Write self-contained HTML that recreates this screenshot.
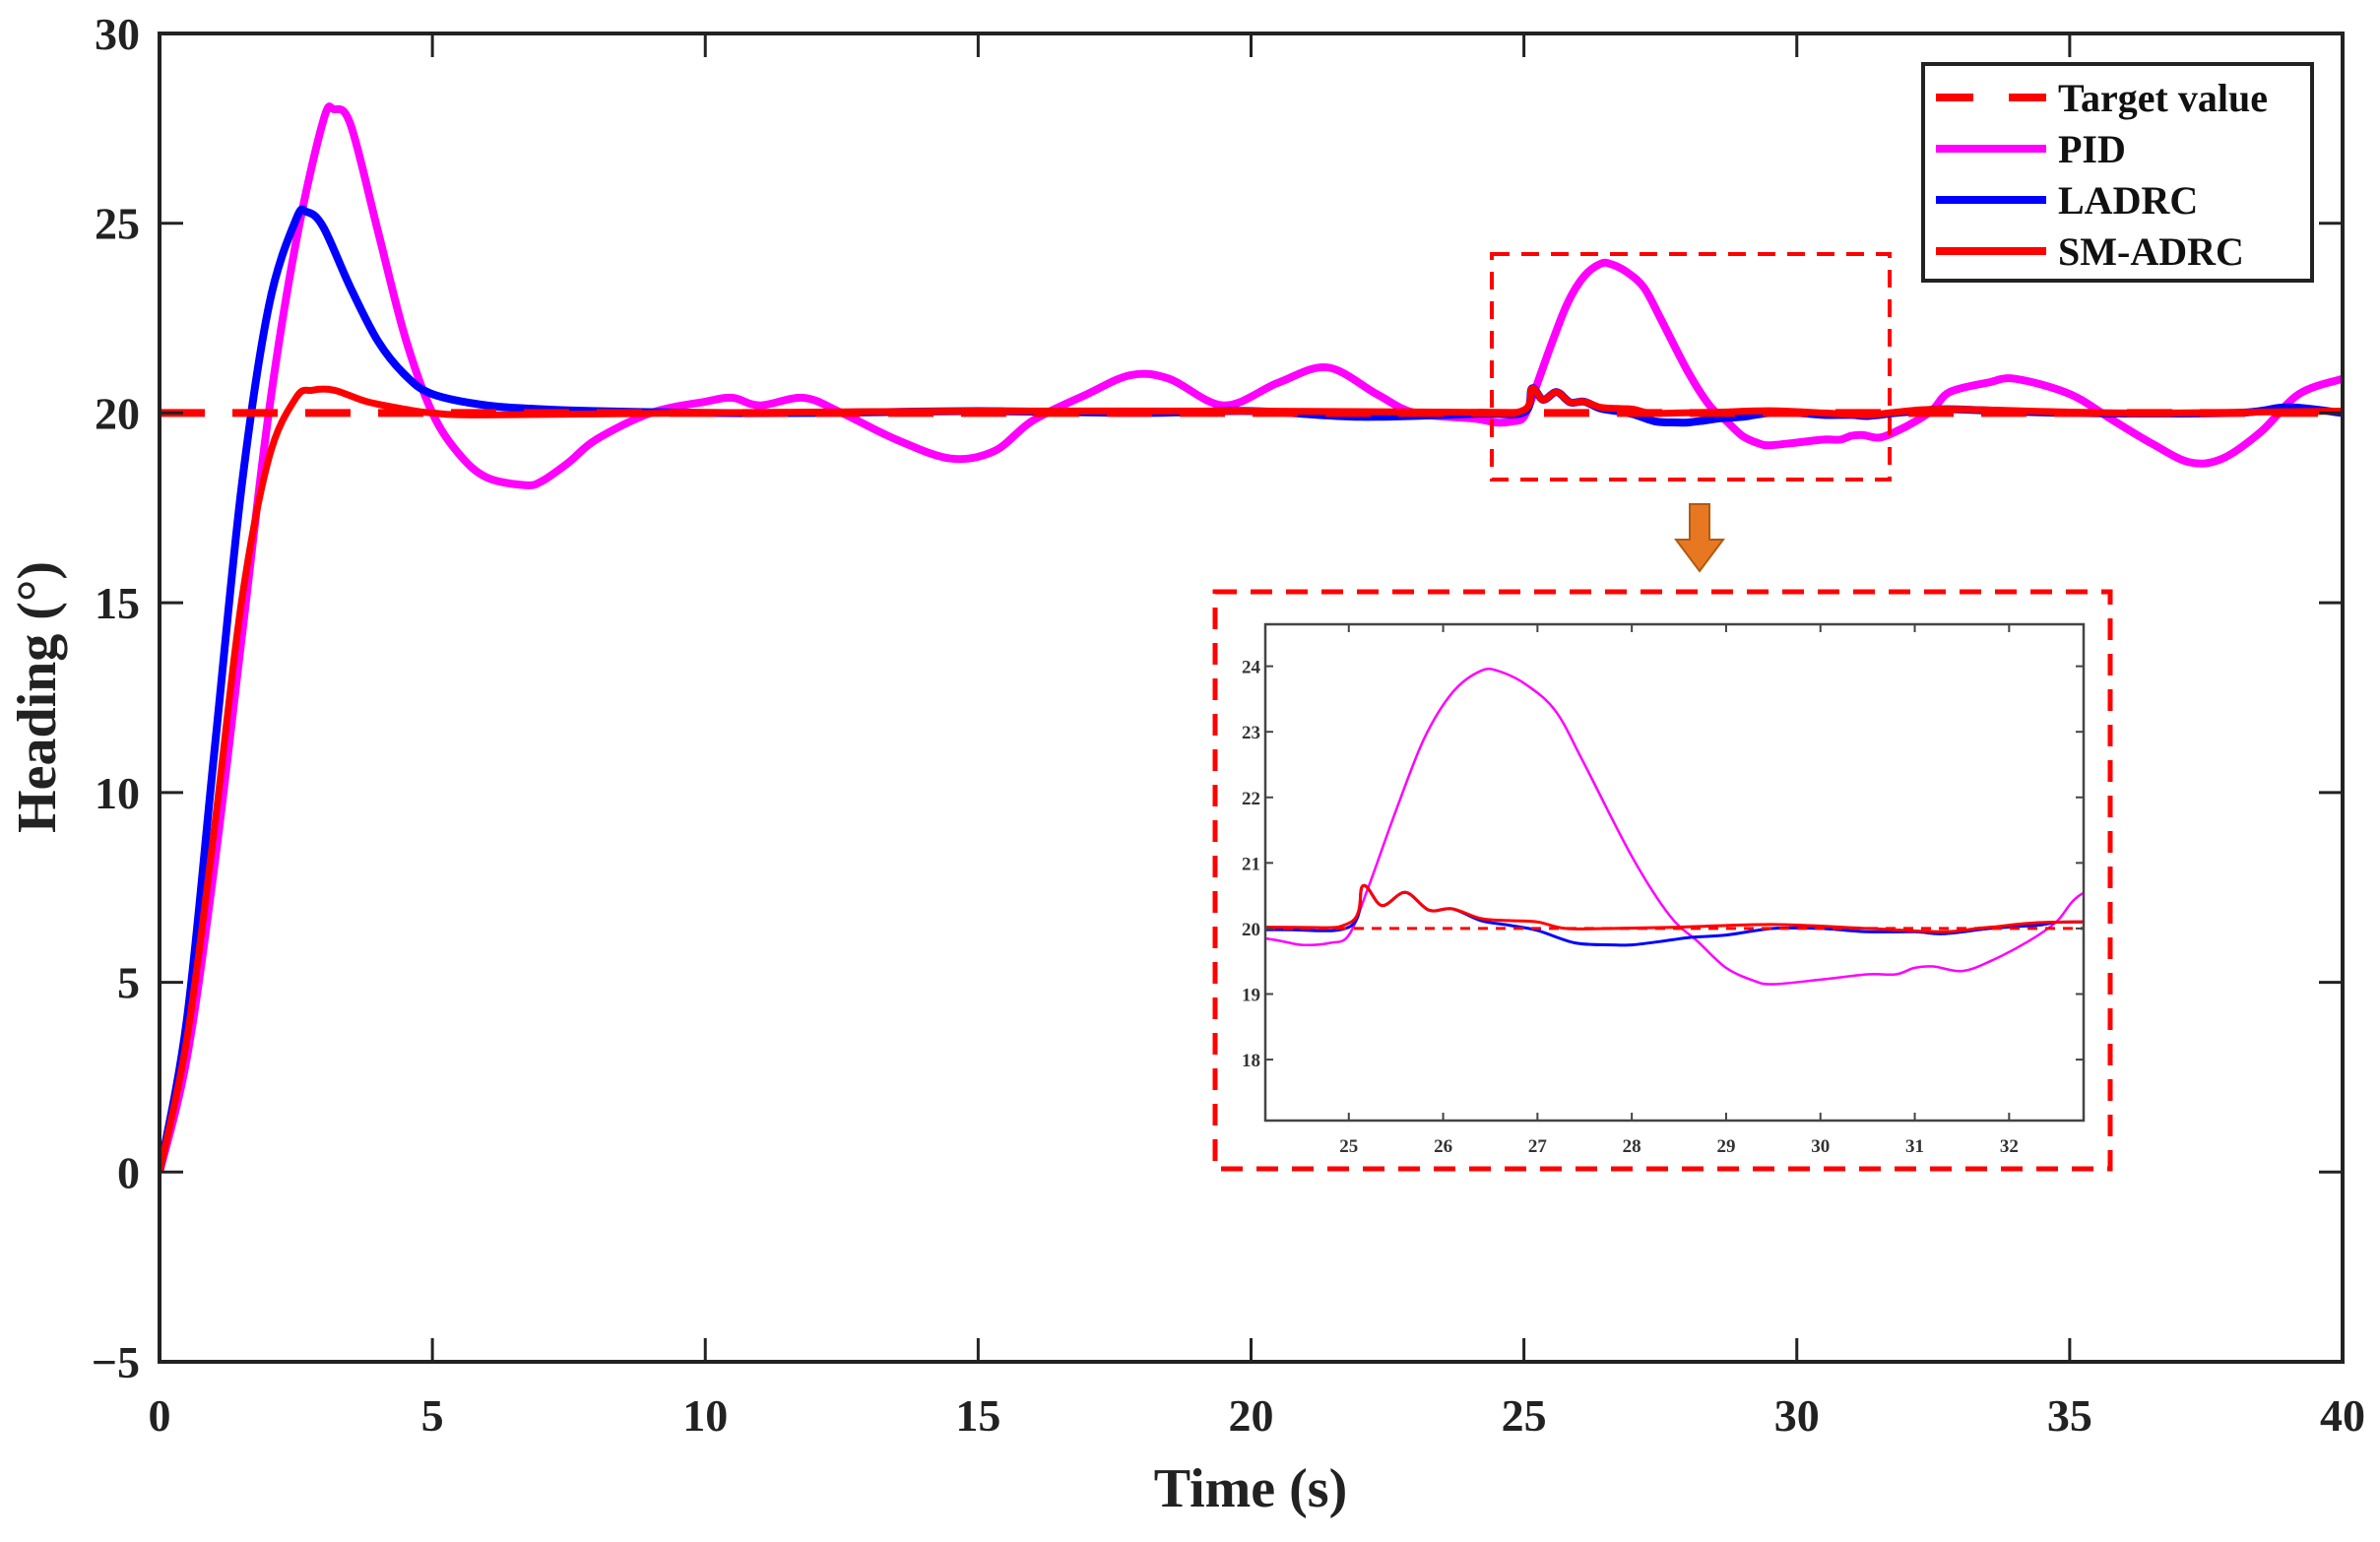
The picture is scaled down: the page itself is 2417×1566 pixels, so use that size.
<!DOCTYPE html>
<html><head><meta charset="utf-8"><style>
html,body{margin:0;padding:0;background:#fff;width:2417px;height:1566px;overflow:hidden}
svg{display:block;font-family:"Liberation Serif",serif}
</style></head><body>
<svg id="chart" width="2417" height="1566" viewBox="0 0 2417 1566" xmlns="http://www.w3.org/2000/svg">
<defs>
<clipPath id="mainClip"><rect x="162" y="34" width="2217" height="1349"/></clipPath>
<clipPath id="insetClip"><rect x="1285" y="634" width="831" height="504"/></clipPath>
</defs>
<g id="main"></g>
<g id="inset"></g>
</svg>
<script>
const target = 20;
const pidT = [0,0.5,1,1.5,2,2.5,3,3.2,3.5,4,4.5,5,5.5,6,6.7,7,7.5,8,9,10,10.5,11,11.8,12.5,13.5,14.5,15.3,16,17,17.8,18.5,19.5,20.5,21.4,22.3,23,24.1,24.5,24.8,25,25.2,25.5,25.8,26.1,26.4,26.6,26.9,27.2,27.5,28,28.4,28.7,29,29.3,29.5,30,30.5,30.8,31,31.2,31.5,31.8,32.2,32.5,32.8,33.5,34,35,35.8,36.5,37.2,37.8,38.5,39.2,40];
const pidV = [0,3,8,14,20,24.5,27.7,28,27.6,24.8,22,20,18.9,18.3,18.1,18.2,18.7,19.3,20,20.3,20.4,20.2,20.4,20,19.3,18.8,19,19.8,20.5,21,20.9,20.2,20.8,21.2,20.5,20,19.85,19.75,19.78,19.9,20.6,21.8,22.9,23.6,23.93,23.92,23.7,23.3,22.5,21.1,20.2,19.8,19.4,19.2,19.15,19.22,19.3,19.3,19.4,19.42,19.35,19.5,19.8,20.1,20.55,20.8,20.9,20.5,19.8,19.2,18.7,18.8,19.5,20.5,20.9];
const ladT = [0,0.5,1,1.5,2,2.5,2.7,3,3.5,4,4.5,5,6,7,8,10,12,15,18,20,22,24.1,25,25.15,25.35,25.6,25.85,26.1,26.4,26.7,27,27.4,27.8,28,28.3,28.6,29,29.5,30,30.5,31,31.3,31.8,32.3,32.8,35,38,39,40];
const ladV = [0,4,11,18,22.8,25.1,25.3,24.9,23.3,21.9,21,20.5,20.2,20.1,20.05,20,20,20.05,20,20.05,19.9,19.98,20.02,20.65,20.35,20.55,20.28,20.3,20.12,20.05,19.97,19.78,19.75,19.75,19.8,19.86,19.9,20,20,19.95,19.95,19.92,20,20.05,20.1,20,20,20.15,20];
const smT = [0,0.5,1,1.5,2,2.5,2.8,3.2,3.8,4.5,5,6,10,15,20,24.1,25,25.15,25.35,25.6,25.85,26.1,26.4,26.7,27,27.3,27.8,28.5,29.5,30.5,31.3,31.8,32.8,36,40];
const smV = [0,3.5,9,15,18.8,20.4,20.6,20.6,20.3,20.1,20,19.95,20,20.05,20.05,20.02,20.08,20.65,20.35,20.55,20.28,20.3,20.15,20.12,20.1,20,20,20.02,20.06,20,19.95,20.02,20.1,20,20.05];
const xTicks = [0,5,10,15,20,25,30,35,40];
const yTicks = [-5,0,5,10,15,20,25,30];
const yTickLabels = ["\u22125","0","5","10","15","20","25","30"];
const insetXTicks = [25,26,27,28,29,30,31,32];
const insetYTicks = [18,19,20,21,22,23,24];

const NS="http://www.w3.org/2000/svg";
function mk(tag, attrs, parent){const e=document.createElementNS(NS,tag);for(const k in attrs)e.setAttribute(k,attrs[k]);parent.appendChild(e);return e;}
const M={x0:162,x1:2379,y0:34,y1:1383,xmin:0,xmax:40,ymin:-5,ymax:30};
const I={x0:1285,x1:2116,y0:634,y1:1138,xmin:24.115,xmax:32.79,ymin:17.07,ymax:24.64};
function sx(a,v){return a.x0+(v-a.xmin)/(a.xmax-a.xmin)*(a.x1-a.x0);}
function sy(a,v){return a.y1-(v-a.ymin)/(a.ymax-a.ymin)*(a.y1-a.y0);}
function pathOf(a,T,V){
 const P=T.map((t,i)=>[sx(a,t),sy(a,V[i])]);
 let d='M'+P[0][0].toFixed(1)+','+P[0][1].toFixed(1);
 for(let i=0;i<P.length-1;i++){
  const p0=P[i-1]||P[i],p1=P[i],p2=P[i+1],p3=P[i+2]||P[i+1];
  const c1=[p1[0]+(p2[0]-p0[0])/6,p1[1]+(p2[1]-p0[1])/6];
  const c2=[p2[0]-(p3[0]-p1[0])/6,p2[1]-(p3[1]-p1[1])/6];
  d+='C'+c1[0].toFixed(1)+','+c1[1].toFixed(1)+' '+c2[0].toFixed(1)+','+c2[1].toFixed(1)+' '+p2[0].toFixed(1)+','+p2[1].toFixed(1);
 }
 return d;
}

const main=document.getElementById('main');
const gs=mk('g',{'clip-path':'url(#mainClip)'},main);
let p;
p=mk('path',{d:pathOf(M,pidT,pidV),fill:'none',stroke:'#ff00ff','stroke-width':8,'stroke-linejoin':'round'},gs);


p=mk('path',{d:pathOf(M,ladT,ladV),fill:'none',stroke:'#0000ff','stroke-width':8,'stroke-linejoin':'round'},gs);


p=mk('line',{x1:sx(M,0),x2:sx(M,40),y1:sy(M,target),y2:sy(M,target),stroke:'#ff0000','stroke-width':8,'stroke-dasharray':'46 28'},gs);


p=mk('path',{d:pathOf(M,smT,smV),fill:'none',stroke:'#ff0000','stroke-width':7,'stroke-linejoin':'round'},gs);


p=mk('rect',{x:M.x0,y:M.y0,width:M.x1-M.x0,height:M.y1-M.y0,fill:'none',stroke:'#222','stroke-width':4},main);


xTicks.forEach(t=>{const x=sx(M,t);
 mk('line',{x1:x,x2:x,y1:M.y1,y2:M.y1-24,stroke:'#222','stroke-width':3},main);
 mk('line',{x1:x,x2:x,y1:M.y0,y2:M.y0+24,stroke:'#222','stroke-width':3},main);
 const tx=mk('text',{x:x,y:1453,'text-anchor':'middle','font-size':46,'font-weight':'bold',fill:'#222'},main);
 tx.textContent=t;
 
 
});
yTicks.forEach((t,i)=>{const y=sy(M,t);
 mk('line',{x1:M.x0,x2:M.x0+24,y1:y,y2:y,stroke:'#222','stroke-width':3},main);
 mk('line',{x1:M.x1,x2:M.x1-24,y1:y,y2:y,stroke:'#222','stroke-width':3},main);
 const tx=mk('text',{x:142,y:y+16,'text-anchor':'end','font-size':46,'font-weight':'bold',fill:'#222'},main);
 tx.textContent=yTickLabels[i];
 
 
});
let t=mk('text',{x:1270,y:1530,'text-anchor':'middle','font-size':56,'font-weight':'bold',fill:'#222'},main);
t.textContent='Time (s)';


t=mk('text',{x:0,y:0,transform:'translate(56,708) rotate(-90)','text-anchor':'middle','font-size':56,'font-weight':'bold',fill:'#222'},main);
t.textContent='Heading (°)';


p=mk('rect',{x:1515,y:258,width:404,height:229,fill:'none',stroke:'#ff0000','stroke-width':4,'stroke-dasharray':'18 12'},main);


p=mk('path',{d:'M1716,512 L1736,512 L1736,548 L1750,548 L1726,580 L1702,548 L1716,548 Z',fill:'#e87722',stroke:'#b05a10','stroke-width':2},main);


const lg=mk('g',{},main);


mk('rect',{x:1953,y:65,width:395,height:220,fill:'#fff',stroke:'#222','stroke-width':4},lg);
const ents=[['Target value','#ff0000',true],['PID','#ff00ff',false],['LADRC','#0000ff',false],['SM-ADRC','#ff0000',false]];
ents.forEach((e,i)=>{const y=99+i*52;
 const l=mk('line',{x1:1966,x2:2078,y1:y,y2:y,stroke:e[1],'stroke-width':8},lg);
 if(e[2])l.setAttribute('stroke-dasharray','38 36');
 const tx=mk('text',{x:2090,y:y+14,'font-size':40,'font-weight':'bold',fill:'#111'},lg);
 tx.textContent=e[0];
 
 
});

const ins=document.getElementById('inset');
p=mk('rect',{x:1234,y:601,width:909,height:586,fill:'#fff',stroke:'#ff0000','stroke-width':5,'stroke-dasharray':'22 14'},ins);


const gi=mk('g',{'clip-path':'url(#insetClip)'},ins);
p=mk('path',{d:pathOf(I,pidT,pidV),fill:'none',stroke:'#ff00ff','stroke-width':2.5},gi);


p=mk('path',{d:pathOf(I,ladT,ladV),fill:'none',stroke:'#0000ff','stroke-width':3},gi);


p=mk('line',{x1:I.x0,x2:I.x1,y1:sy(I,target),y2:sy(I,target),stroke:'#ff0000','stroke-width':3,'stroke-dasharray':'10 8'},gi);


p=mk('path',{d:pathOf(I,smT,smV),fill:'none',stroke:'#ff0000','stroke-width':3},gi);


p=mk('rect',{x:I.x0,y:I.y0,width:I.x1-I.x0,height:I.y1-I.y0,fill:'none',stroke:'#444','stroke-width':2.5},ins);


insetXTicks.forEach(v=>{const x=sx(I,v);
 mk('line',{x1:x,x2:x,y1:I.y1,y2:I.y1-8,stroke:'#444','stroke-width':2},ins);
 mk('line',{x1:x,x2:x,y1:I.y0,y2:I.y0+8,stroke:'#444','stroke-width':2},ins);
 const tx=mk('text',{x:x,y:1170,'text-anchor':'middle','font-size':19,'font-weight':'bold',fill:'#333'},ins);
 tx.textContent=v;
 
 
});
insetYTicks.forEach(v=>{const y=sy(I,v);
 mk('line',{x1:I.x0,x2:I.x0+8,y1:y,y2:y,stroke:'#444','stroke-width':2},ins);
 mk('line',{x1:I.x1,x2:I.x1-8,y1:y,y2:y,stroke:'#444','stroke-width':2},ins);
 const tx=mk('text',{x:1280,y:y+7,'text-anchor':'end','font-size':19,'font-weight':'bold',fill:'#333'},ins);
 tx.textContent=v;
 
 
});
</script>
</body></html>
